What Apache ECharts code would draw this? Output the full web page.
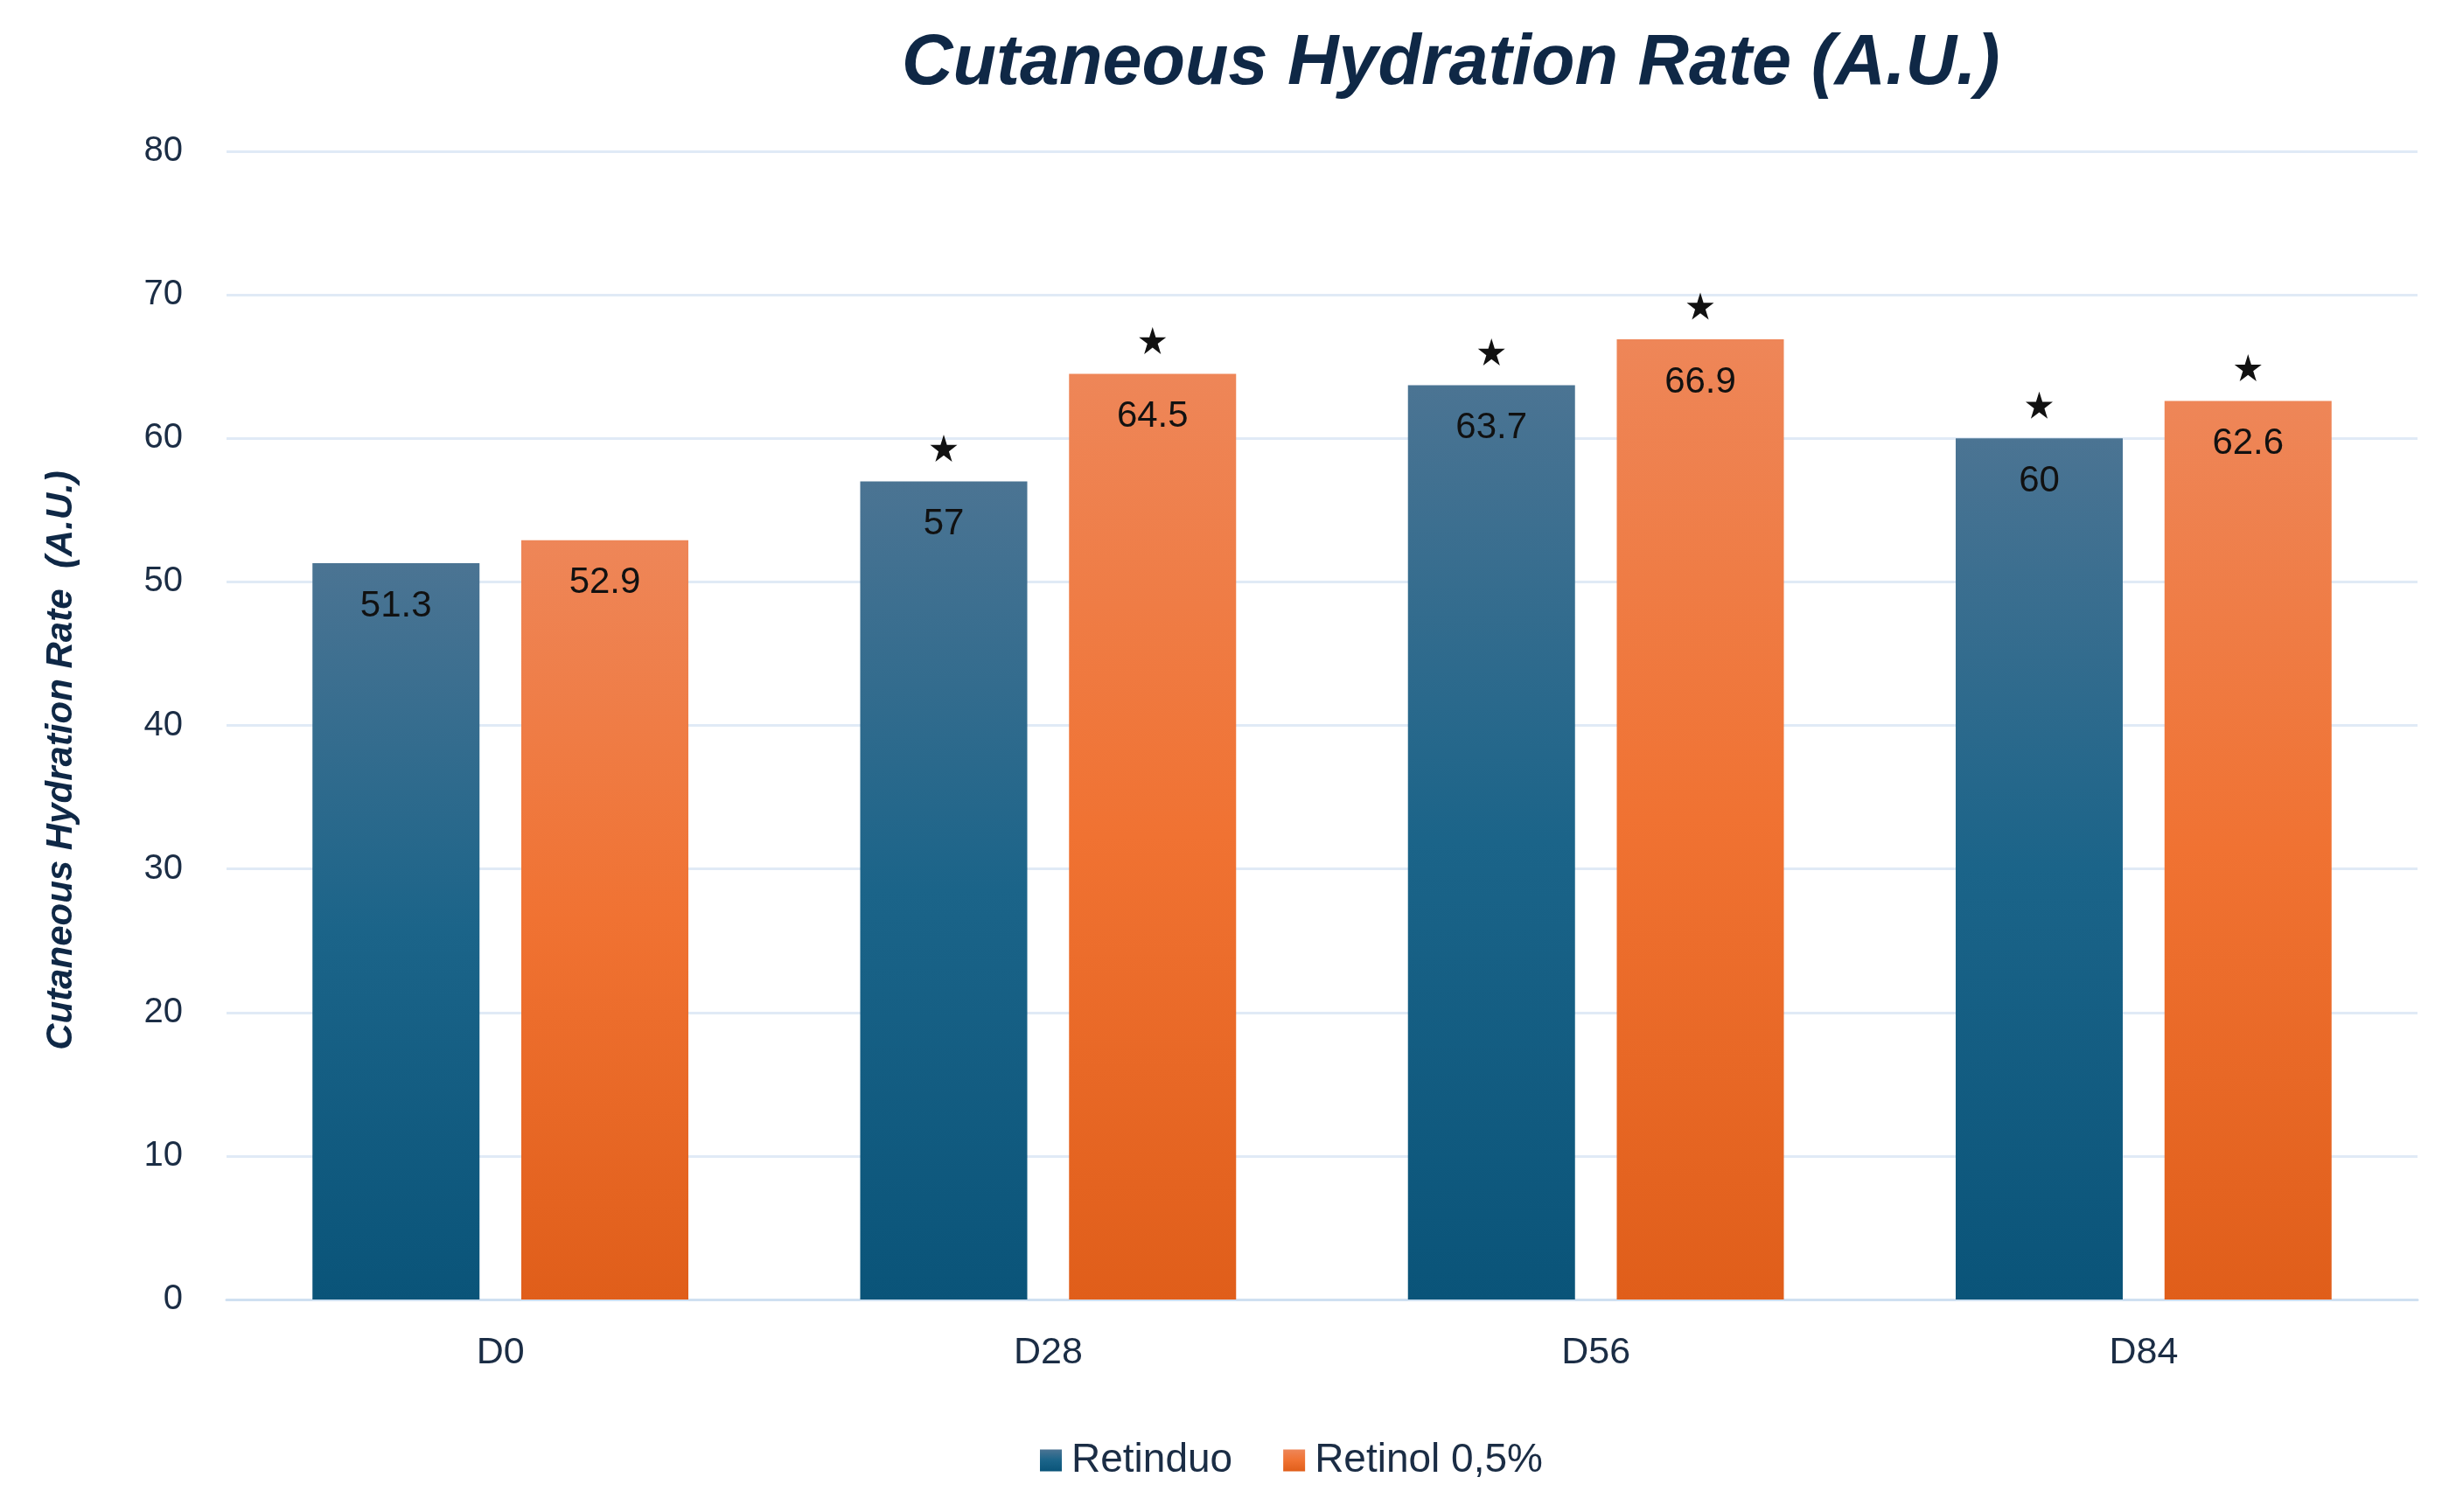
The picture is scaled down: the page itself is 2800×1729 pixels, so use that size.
<!DOCTYPE html>
<html>
<head>
<meta charset="utf-8">
<script src="https://cdn.jsdelivr.net/npm/echarts@6/dist/echarts.min.js"></script>
<style>
html,body{margin:0;padding:0;background:#fff;}
#chart{width:2800px;height:1729px;}
</style>
</head>
<body>
<div id="chart"></div>
<script>
// ---- data ----
const categories = ['D0', 'D28', 'D56', 'D84'];
const retinduoValues = [51.3, 57, 63.7, 60];
const retinolValues = [52.9, 64.5, 66.9, 62.6];
const retinduoSignificant = [false, true, true, true];
const retinolSignificant = [false, true, true, true];
const seriesNames = ['Retinduo', 'Retinol 0,5%'];
const yTicks = [0, 10, 20, 30, 40, 50, 60, 70, 80];
const titleText = 'Cutaneous Hydration Rate (A.U.)';
const yAxisTitle = 'Cutaneous Hydration Rate  (A.U.)';

// ---- chart ----
const chart = echarts.init(document.getElementById('chart'), null, {renderer: 'canvas'});
const FONT = '"Liberation Sans", Arial, sans-serif';
const NAVY = '#1b2d45';
const STAR = 'path://M50,0 L61.2,34.5 L97.6,34.5 L68.2,55.9 L79.4,90.5 L50,69.1 L20.6,90.5 L31.8,55.9 L2.4,34.5 L38.8,34.5 Z';

function grad(stops) {
  return new echarts.graphic.LinearGradient(0, 0, 0, 1,
    stops.map((c, i) => ({offset: i / (stops.length - 1), color: c})));
}
const blueGrad = grad(['#4b7493', '#1b6489', '#0a5479']);
const orangeGrad = grad(['#ee8658', '#f07232', '#e05e1a']);

function starPoints(values, sig) {
  const out = [];
  values.forEach((v, i) => { if (sig[i]) out.push({coord: [categories[i], v]}); });
  return out;
}

function barSeries(name, values, sig, color) {
  return {
    name: name,
    type: 'bar',
    data: values,
    barWidth: '30.5%',
    barGap: '25%',
    itemStyle: {color: color},
    label: {
      show: true,
      position: 'insideTop',
      distance: 28,
      color: '#111111',
      fontFamily: FONT,
      fontSize: 42
    },
    markPoint: {
      symbol: STAR,
      symbolSize: 31,
      symbolOffset: [0, -38],
      itemStyle: {color: '#111111'},
      label: {show: false},
      data: starPoints(values, sig)
    },
    emphasis: {disabled: true}
  };
}

chart.setOption({
  animation: false,
  backgroundColor: '#ffffff',
  title: {
    text: titleText,
    left: 1026,
    top: 28,
    textStyle: {
      fontFamily: FONT,
      fontSize: 81,
      fontWeight: 'bold',
      fontStyle: 'italic',
      color: '#0f2846'
    }
  },
  legend: {
    data: seriesNames,
    left: 1184,
    top: 1642,
    itemWidth: 25,
    itemHeight: 25,
    itemGap: 58,
    icon: 'rect',
    textStyle: {fontFamily: FONT, fontSize: 46, color: NAVY, padding: [0, 0, 0, 6]}
  },
  grid: {left: 259, right: 36, top: 173, bottom: 243},
  xAxis: {
    type: 'category',
    data: categories,
    axisTick: {show: false},
    axisLine: {show: true, lineStyle: {color: '#cfe0f1', width: 3}},
    axisLabel: {margin: 40, fontFamily: FONT, fontSize: 43, color: NAVY}
  },
  yAxis: {
    type: 'value',
    min: yTicks[0],
    max: yTicks[yTicks.length - 1],
    interval: yTicks[1] - yTicks[0],
    name: yAxisTitle,
    nameLocation: 'middle',
    nameGap: 168,
    nameRotate: 90,
    nameTextStyle: {
      fontFamily: FONT,
      fontSize: 42,
      fontWeight: 'bold',
      fontStyle: 'italic',
      color: '#0f2846',
      padding: [0, 80, 0, 0]
    },
    axisLine: {show: false},
    axisTick: {show: false},
    axisLabel: {margin: 50, fontFamily: FONT, fontSize: 40, color: NAVY},
    splitLine: {lineStyle: {color: '#e0eaf6', width: 3}}
  },
  series: [
    barSeries(seriesNames[0], retinduoValues, retinduoSignificant, blueGrad),
    barSeries(seriesNames[1], retinolValues, retinolSignificant, orangeGrad)
  ]
});
</script>
</body>
</html>
